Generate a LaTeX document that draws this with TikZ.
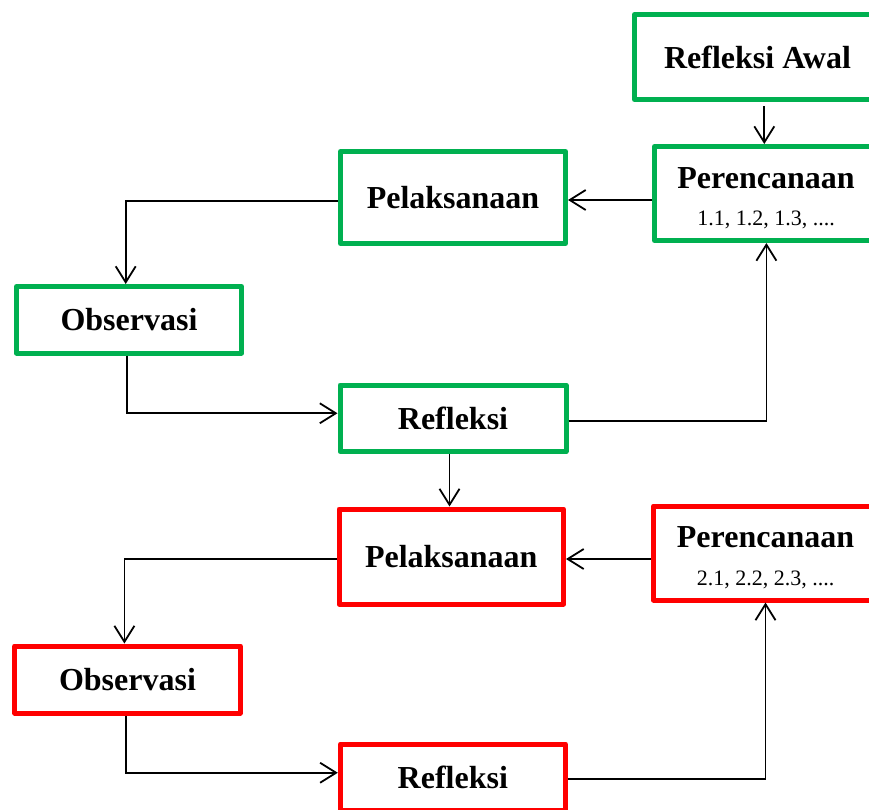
\documentclass[tikz,border=0pt]{standalone}
\usepackage{fontspec}
\setmainfont{Liberation Serif}
\usetikzlibrary{arrows.meta}
\definecolor{boxgreen}{HTML}{00B050}
\definecolor{boxred}{HTML}{FF0000}
\begin{document}
\begin{tikzpicture}[x=1pt,y=-1pt,
  box/.style={draw=#1, line width=5pt, rectangle, inner sep=0pt, line join=round,
    font=\fontsize{32}{38}\selectfont\bfseries, fill=white},
  titletext/.style={anchor=base, inner sep=0pt, font=\fontsize{32}{38}\selectfont\bfseries},
  subtext/.style={anchor=base, inner sep=0pt, font=\fontsize{22}{26}\selectfont},
  arr/.style={-{Straight Barb[length=16pt,width=20pt]}, line width=1.8pt, black}]
\useasboundingbox (0,0) rectangle (869,809);
\clip (0,0) rectangle (869,809);
% green cycle
\node[box=boxgreen, minimum width=246pt, minimum height=85pt] (ra) at (757.5,57) {Refleksi Awal};
\node[box=boxgreen, minimum width=223pt, minimum height=94pt] (p1) at (766,193.5) {};
\node[titletext] (p1t) at ([yshift=5pt]p1.center) {Perencanaan};
\node[subtext] (p1s) at ([yshift=-32pt]p1.center) {1.1, 1.2, 1.3, ....};
\node[box=boxgreen, minimum width=225pt, minimum height=92pt] (pel1) at (453,197.5) {Pelaksanaan};
\node[box=boxgreen, minimum width=225pt, minimum height=66.5pt] (obs1) at (129,319.75) {Observasi};
\node[box=boxgreen, minimum width=226pt, minimum height=66.5pt] (ref1) at (453,418.25) {Refleksi};
% red cycle
\node[box=boxred, minimum width=224pt, minimum height=94pt] (p2) at (765.5,553) {};
\node[titletext] (p2t) at ([yshift=6pt]p2.center) {Perencanaan};
\node[subtext] (p2s) at ([yshift=-32pt]p2.center) {2.1, 2.2, 2.3, ....};
\node[box=boxred, minimum width=224.5pt, minimum height=95pt] (pel2) at (451.25,556.5) {Pelaksanaan};
\node[box=boxred, minimum width=225.6pt, minimum height=67pt] (obs2) at (127.5,679.5) {Observasi};
\node[box=boxred, minimum width=225pt, minimum height=66.5pt] (ref2) at (452.8,777.25) {Refleksi};
% connectors
\draw[arr, shorten <=4pt] ([xshift=6.8pt]ra.south) -- ([xshift=-1.7pt]p1.north);
\draw[arr] ([yshift=-6.5pt]p1.west) -- ([yshift=-2.5pt]pel1.east);
\draw[arr] ([yshift=-3.2pt]pel1.west) -| ([xshift=-3.3pt]obs1.north);
\draw[arr] ([xshift=-2.3pt]obs1.south) |- ([yshift=5pt]ref1.west);
\draw[arr] ([yshift=-2.5pt]ref1.east) -| ([xshift=0.4pt]p1.south);
\draw[arr] ([xshift=-3.5pt]ref1.south) -- ([xshift=-1.75pt]pel2.north);
\draw[arr] ([yshift=-6pt]p2.west) -- ([yshift=-2.5pt]pel2.east);
\draw[arr] ([yshift=-2.5pt]pel2.west) -| ([xshift=-3.1pt]obs2.north);
\draw[arr] ([xshift=-1.9pt]obs2.south) |- ([yshift=4.5pt]ref2.west);
\draw[arr] ([yshift=-2pt]ref2.east) -| (p2.south);
\end{tikzpicture}
\end{document}
